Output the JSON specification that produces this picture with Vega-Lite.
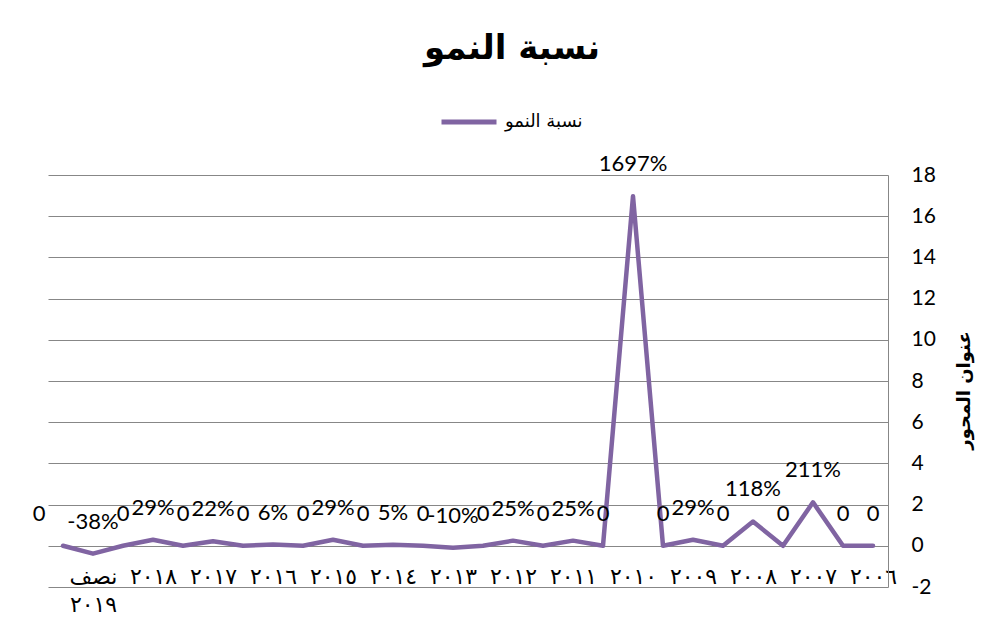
{
  "$schema": "https://vega.github.io/schema/vega-lite/v6.json",
  "width": 840,
  "height": 412,
  "autosize": {"type": "none"},
  "padding": {"left": 48, "top": 175, "right": 114, "bottom": 52},
  "background": "white",
  "config": {
    "view": {"stroke": null},
    "locale": {"number": {"decimal": ".", "thousands": ",", "grouping": [3], "currency": ["$", ""], "minus": "-"}}
  },
  "title": {
    "text": "نسبة النمو",
    "font": "DejaVu Sans",
    "fontSize": 34,
    "fontWeight": "bold",
    "color": "#000000",
    "anchor": "middle",
    "frame": "group",
    "dx": 44,
    "offset": 26
  },
  "data": {
    "values": [
      {"i": 0, "cat": "_0", "v": 0},
      {"i": 1, "cat": "نصف ٢٠١٩", "v": -0.38},
      {"i": 2, "cat": "_2", "v": 0},
      {"i": 3, "cat": "٢٠١٨", "v": 0.29},
      {"i": 4, "cat": "_4", "v": 0},
      {"i": 5, "cat": "٢٠١٧", "v": 0.22},
      {"i": 6, "cat": "_6", "v": 0},
      {"i": 7, "cat": "٢٠١٦", "v": 0.06},
      {"i": 8, "cat": "_8", "v": 0},
      {"i": 9, "cat": "٢٠١٥", "v": 0.29},
      {"i": 10, "cat": "_10", "v": 0},
      {"i": 11, "cat": "٢٠١٤", "v": 0.05},
      {"i": 12, "cat": "_12", "v": 0},
      {"i": 13, "cat": "٢٠١٣", "v": -0.10},
      {"i": 14, "cat": "_14", "v": 0},
      {"i": 15, "cat": "٢٠١٢", "v": 0.25},
      {"i": 16, "cat": "_16", "v": 0},
      {"i": 17, "cat": "٢٠١١", "v": 0.25},
      {"i": 18, "cat": "_18", "v": 0},
      {"i": 19, "cat": "٢٠١٠", "v": 16.97},
      {"i": 20, "cat": "_20", "v": 0},
      {"i": 21, "cat": "٢٠٠٩", "v": 0.29},
      {"i": 22, "cat": "_22", "v": 0},
      {"i": 23, "cat": "٢٠٠٨", "v": 1.18},
      {"i": 24, "cat": "_24", "v": 0},
      {"i": 25, "cat": "٢٠٠٧", "v": 2.11},
      {"i": 26, "cat": "_26", "v": 0},
      {"i": 27, "cat": "٢٠٠٦", "v": 0}
    ]
  },
  "transform": [
    {"calculate": "datum.v == 0 ? '0' : replace(format(datum.v, '.0%'), '\u2212', '-')", "as": "lbl"}
  ],
  "encoding": {
    "x": {
      "field": "cat",
      "type": "nominal",
      "sort": null,
      "scale": {"type": "point", "padding": 0.5},
      "axis": {
        "title": null,
        "domain": false,
        "ticks": false,
        "tickSize": 0,
        "grid": false,
        "labelAngle": 0,
        "labelPadding": -21,
        "labelFont": "DejaVu Sans",
        "labelFontSize": 22,
        "labelColor": "#000000",
        "labelOverlap": false,
        "labelFlush": false,
        "labelBound": false,
        "labelLineHeight": 28,
        "labelBaseline": "top",
        "labelAlign": "center",
        "labelExpr": "indexof(datum.value, '_') == 0 ? '' : split(datum.value, ' ')"
      }
    },
    "y": {
      "field": "v",
      "type": "quantitative",
      "scale": {"domain": [-2, 18], "nice": false, "zero": false},
      "axis": {
        "orient": "right",
        "values": [-2, 0, 2, 4, 6, 8, 10, 12, 14, 16, 18],
        "grid": true,
        "gridColor": "#878787",
        "gridWidth": 1,
        "domain": true,
        "domainColor": "#878787",
        "domainWidth": 1,
        "ticks": false,
        "tickSize": 0,
        "labelPadding": 23,
        "labelFont": "Lato",
        "labelFontSize": 21,
        "labelColor": "#000000",
        "labelExpr": "replace(datum.label, '\u2212', '-')",
        "title": "عنوان المحور",
        "titleFont": "DejaVu Sans",
        "titleFontSize": 18,
        "titleFontWeight": "bold",
        "titleColor": "#000000",
        "titleAngle": 270,
        "titleX": 76,
        "titleY": 215,
        "titleAlign": "center",
        "titleBaseline": "middle"
      }
    }
  },
  "layer": [
    {
      "mark": {"type": "line", "strokeWidth": 4.5, "strokeJoin": "round", "strokeCap": "round"},
      "encoding": {
        "order": {"field": "i", "type": "quantitative"},
        "color": {
          "datum": "نسبة النمو",
          "scale": {"range": ["#8064A2"]},
          "legend": {
            "title": null,
            "orient": "none",
            "legendX": 391,
            "legendY": -83,
            "padding": 0,
            "symbolType": "stroke",
            "symbolSize": 3025,
            "symbolStrokeWidth": 5,
            "labelFont": "DejaVu Sans",
            "labelFontSize": 18,
            "labelColor": "#000000",
            "labelOffset": 6
          }
        }
      }
    },
    {
      "transform": [{"filter": "datum.i != 0"}],
      "mark": {"type": "text", "dy": -32, "font": "Lato", "fontSize": 22, "color": "#000000", "baseline": "middle", "align": "center"},
      "encoding": {
        "text": {"field": "lbl", "type": "nominal"}
      }
    },
    {
      "transform": [{"filter": "datum.i == 0"}],
      "mark": {"type": "text", "dy": -32, "dx": -24, "font": "Lato", "fontSize": 22, "color": "#000000", "baseline": "middle", "align": "center"},
      "encoding": {
        "text": {"field": "lbl", "type": "nominal"}
      }
    }
  ]
}
